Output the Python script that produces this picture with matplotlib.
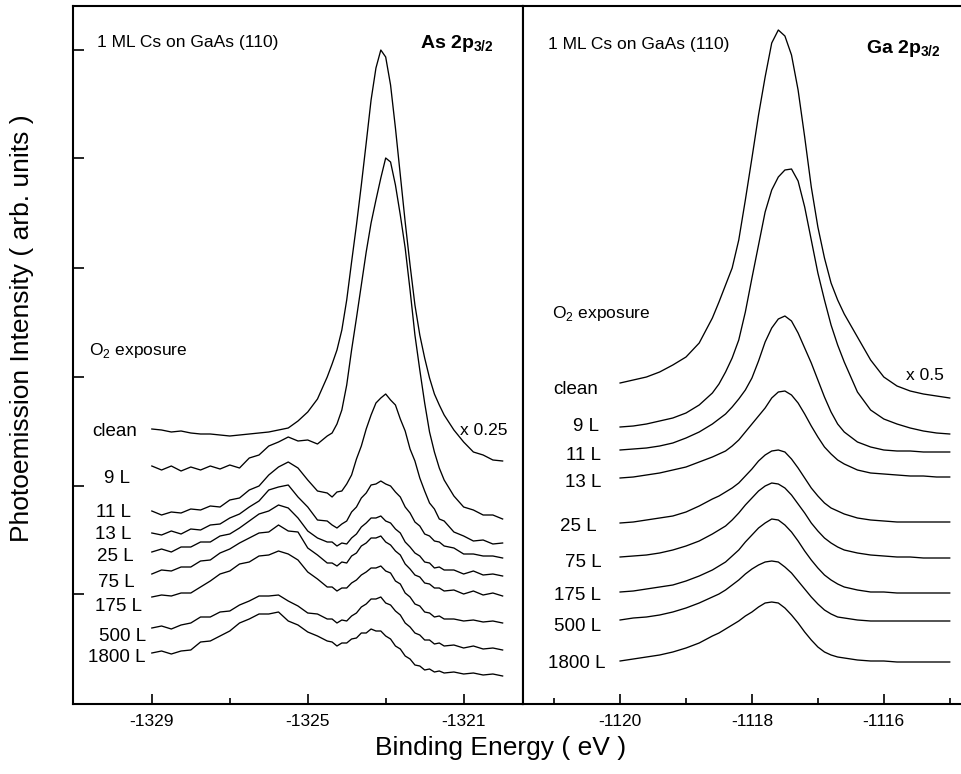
import matplotlib
matplotlib.use("Agg")
import matplotlib.pyplot as plt

plt.rcParams["font.family"] = "Liberation Sans"
plt.rcParams["mathtext.fontset"] = "custom"
plt.rcParams["mathtext.rm"] = "Liberation Sans"
plt.rcParams["mathtext.bf"] = "Liberation Sans:bold"
plt.rcParams["axes.unicode_minus"] = False


########################## data ##########################

exposures = ["clean", "9 L", "11 L", "13 L", "25 L", "75 L", "175 L", "500 L", "1800 L"]

# As 2p3/2 : binding energy (eV) and intensity (arb. units, stacked)
as_energy = [-1329.0, -1328.75, -1328.5, -1328.25, -1328.0, -1327.75, -1327.5, -1327.25,
             -1327.0, -1326.75, -1326.5, -1326.25, -1326.0, -1325.75, -1325.5, -1325.25,
             -1325.0, -1324.75,
             -1324.5, -1324.375, -1324.25, -1324.125, -1324.0, -1323.875, -1323.75,
             -1323.625, -1323.5, -1323.375, -1323.25, -1323.125, -1323.0, -1322.875,
             -1322.75, -1322.625, -1322.5, -1322.375, -1322.25, -1322.125, -1322.0,
             -1321.875, -1321.75, -1321.625, -1321.5,
             -1321.25, -1321.0, -1320.75, -1320.5, -1320.25, -1320.0]

as_clean = [276, 275, 273, 274, 272, 271, 271, 270, 269, 270, 271, 272, 273, 275, 277, 284, 293, 306,
            328, 341, 355, 375, 405, 443, 480, 520, 562, 605, 637, 655, 648, 620, 577, 530, 483, 440,
            400, 370, 347, 327, 311, 300, 290,
            275, 263, 253, 250, 245, 244]
as_9L = [239, 235, 239, 234, 238, 235, 239, 236, 240, 237, 247, 250, 259, 263, 268, 264, 265, 261,
         269, 272, 281, 295, 320, 355, 387, 420, 453, 482, 505, 527, 547, 543, 520, 490, 457, 415,
         370, 335, 302, 273, 253, 237, 225,
         209, 198, 195, 190, 190, 186]
as_11L = [194, 190, 193, 192, 196, 195, 199, 198, 205, 207, 215, 219, 230, 238, 243, 237, 225, 214,
          212, 208, 213, 214, 221, 230, 246, 259, 276, 290, 302, 307, 311, 305, 300, 286, 274, 256,
          244, 227, 214, 202, 196, 186, 184,
          173, 169, 164, 165, 161, 162]
as_13L = [172, 170, 174, 171, 176, 175, 180, 181, 187, 191, 198, 204, 215, 218, 220, 208, 198, 185,
          184, 180, 177, 181, 184, 193, 198, 207, 212, 220, 221, 224, 221, 219, 213, 208, 198, 192,
          183, 179, 171, 169, 164, 163, 159,
          157, 151, 151, 149, 149, 147]
as_25L = [153, 156, 153, 158, 158, 163, 163, 169, 171, 177, 184, 191, 194, 200, 197, 187, 174, 167,
          163, 163, 159, 162, 161, 167, 171, 178, 182, 187, 187, 189, 184, 182, 176, 172, 163, 158,
          152, 149, 143, 142, 137, 138, 135,
          135, 131, 134, 130, 131, 129]
as_75L = [131, 135, 134, 138, 138, 144, 145, 152, 156, 162, 167, 172, 173, 180, 174, 173, 157, 150,
          142, 142, 139, 143, 142, 149, 152, 159, 162, 167, 167, 169, 163, 160, 154, 150, 141, 136,
          130, 128, 122, 121, 117, 117, 114,
          115, 111, 114, 110, 112, 109]
as_175L = [108, 110, 109, 112, 112, 118, 124, 131, 134, 141, 143, 149, 150, 154, 151, 145, 133, 126,
           118, 118, 114, 117, 117, 122, 125, 130, 133, 137, 137, 139, 134, 132, 124, 121, 112, 108,
           101, 99, 93, 92, 88, 89, 86,
           86, 84, 85, 83, 84, 82]
as_500L = [77, 79, 76, 80, 82, 88, 88, 93, 94, 100, 104, 109, 109, 110, 104, 99, 92, 91,
           86, 86, 82, 85, 84, 89, 92, 98, 101, 106, 106, 108, 102, 100, 94, 90, 82, 78,
           72, 70, 65, 65, 61, 62, 59,
           60, 57, 59, 56, 57, 55]
as_1800L = [52, 54, 51, 54, 55, 63, 64, 69, 74, 82, 86, 91, 91, 93, 84, 80, 73, 69,
            64, 63, 59, 62, 62, 66, 67, 72, 72, 76, 74, 74, 69, 66, 59, 56, 49, 46,
            40, 39, 35, 36, 33, 34, 32,
            33, 31, 32, 30, 31, 29]

as_spectra = [as_clean, as_9L, as_11L, as_13L, as_25L, as_75L, as_175L, as_500L, as_1800L]

# Ga 2p3/2
ga_energy = [-1120.0, -1119.8, -1119.6, -1119.4, -1119.2, -1119.0, -1118.8,
             -1118.6, -1118.5, -1118.4, -1118.3, -1118.2, -1118.1, -1118.0, -1117.9,
             -1117.8, -1117.7, -1117.6, -1117.5, -1117.4, -1117.3, -1117.2, -1117.1,
             -1117.0, -1116.9, -1116.8, -1116.7, -1116.6,
             -1116.4, -1116.2, -1116.0, -1115.8, -1115.6, -1115.4, -1115.2, -1115.0]

ga_clean = [322, 325, 328, 333, 340, 348, 362, 387, 403, 420, 437, 465, 505, 547, 590, 628, 662, 675,
            669, 650, 615, 568, 518, 478, 447, 422, 405, 391, 368, 345, 328, 319, 314, 311, 309, 307]
ga_9L = [278, 279, 281, 284, 287, 292, 300, 312, 321, 333, 347, 365, 393, 427, 460, 493, 515, 528,
         535, 536, 524, 498, 465, 432, 405, 380, 360, 343, 313, 295, 286, 281, 277, 274, 272, 271]
ga_11L = [255, 256, 257, 259, 262, 267, 273, 281, 286, 291, 298, 306, 315, 327, 344, 363, 377, 386,
          389, 384, 372, 357, 342, 325, 308, 293, 281, 273, 263, 258, 255, 254, 254, 253, 253, 253]
ga_13L = [227, 228, 230, 232, 235, 238, 243, 248, 251, 254, 259, 265, 273, 281, 289, 297, 307, 313,
          314, 310, 302, 291, 279, 268, 258, 251, 245, 241, 235, 232, 231, 230, 229, 229, 228, 228]
ga_25L = [182, 183, 185, 187, 189, 193, 199, 206, 209, 213, 217, 222, 229, 236, 244, 250, 254, 255,
          253, 246, 237, 227, 217, 209, 202, 197, 194, 191, 187, 185, 184, 183, 183, 183, 183, 183]
ga_75L = [148, 149, 150, 152, 155, 159, 164, 171, 175, 179, 185, 192, 200, 207, 214, 219, 222, 221,
          217, 210, 201, 192, 182, 174, 167, 162, 158, 155, 152, 150, 149, 148, 148, 147, 147, 147]
ga_175L = [113, 114, 116, 118, 120, 124, 129, 135, 139, 143, 149, 155, 163, 170, 177, 182, 186, 185,
           180, 173, 164, 154, 145, 137, 130, 125, 121, 118, 115, 113, 113, 112, 112, 112, 112, 112]
ga_500L = [85, 87, 88, 90, 93, 97, 102, 108, 111, 115, 120, 125, 131, 136, 140, 143, 144, 143,
           138, 132, 124, 116, 108, 101, 95, 91, 88, 87, 85, 84, 84, 84, 84, 84, 84, 84]
ga_1800L = [44, 46, 48, 50, 53, 57, 62, 69, 72, 76, 80, 84, 89, 93, 98, 102, 103, 102,
            97, 90, 82, 73, 65, 58, 53, 50, 48, 47, 45, 44, 44, 43, 43, 43, 43, 43]

ga_spectra = [ga_clean, ga_9L, ga_11L, ga_13L, ga_25L, ga_75L, ga_175L, ga_500L, ga_1800L]


########################## layout ##########################

W, H = 961, 774
# label anchors (energy, intensity baseline)
as_label_x = [-1329.95, -1329.90, -1329.98, -1329.98, -1329.94, -1329.90, -1329.85, -1329.75, -1329.89]
as_label_y = [269, 222, 188, 166, 144, 118, 94, 64, 43]
ga_label_x = [-1120.67, -1120.52, -1120.56, -1120.56, -1120.63, -1120.56, -1120.64, -1120.65, -1120.65]
ga_label_y = [311, 274, 245, 218, 174, 138, 105, 74, 37]


def style_axis(ax, xlim, major, minor):
    ax.set_xlim(*xlim)
    ax.set_ylim(1, 699)
    ax.set_xticks(major)
    ax.set_xticks(minor, minor=True)
    ax.tick_params(axis="x", which="major", direction="in", length=7, width=1.2,
                   labelsize=12.5, pad=7)
    ax.tick_params(axis="x", which="minor", direction="in", length=4, width=1.2)
    for sp in ax.spines.values():
        sp.set_linewidth(1.5)


def draw_panel(ax, energy, spectra, label_x, label_y):
    for spec in spectra:
        ax.plot(energy, spec, color="black", linewidth=0.95)
    for name, lx, ly in zip(exposures, label_x, label_y):
        ax.text(lx, ly, name, fontsize=13.5, ha="center", va="baseline")


fig = plt.figure(figsize=(W / 100, H / 100), dpi=100)
bottom = 1 - 704 / H
top = 1 - 6 / H
split = 522.5 / W
ax1 = fig.add_axes([72.7 / W, bottom, split - 72.7 / W, top - bottom])
ax2 = fig.add_axes([split, bottom, 1.002 - split, top - bottom])

# As panel
draw_panel(ax1, as_energy, as_spectra, as_label_x, as_label_y)
style_axis(ax1, (-1331.03, -1319.49), [-1329, -1325, -1321], [-1327, -1323])
ax1.set_yticks([111, 219, 328, 437, 547, 655])
ax1.tick_params(axis="y", direction="in", length=8, width=1.2, labelleft=False)
ax1.text(-1330.40, 658, "1 ML Cs on GaAs (110)", fontsize=12.5, va="baseline")
ax1.text(-1322.12, 657, r"As 2p$_{\mathbf{3/2}}$", fontsize=14, fontweight="bold", va="baseline")
ax1.text(-1330.61, 350, r"O$_2$ exposure", fontsize=12.5, va="baseline")
ax1.text(-1321.09, 270, "x 0.25", fontsize=12.5, va="baseline")

# Ga panel
draw_panel(ax2, ga_energy, ga_spectra, ga_label_x, ga_label_y)
style_axis(ax2, (-1121.48, -1114.80), [-1120, -1118, -1116], [-1121, -1119, -1117, -1115])
ax2.set_yticks([])
ax2.spines["right"].set_visible(False)
ax2.text(-1121.10, 656, "1 ML Cs on GaAs (110)", fontsize=12.5, va="baseline")
ax2.text(-1116.27, 652, r"Ga 2p$_{\mathbf{3/2}}$", fontsize=14, fontweight="bold", va="baseline")
ax2.text(-1121.03, 387, r"O$_2$ exposure", fontsize=12.5, va="baseline")
ax2.text(-1115.66, 325, "x 0.5", fontsize=12.5, va="baseline")

fig.text(501 / W, 1 - 748 / H, "Binding Energy ( eV )", fontsize=19, ha="center", va="center")
fig.text(22 / W, 1 - 328 / H, "Photoemission Intensity ( arb. units )", fontsize=19,
         rotation=90, ha="center", va="center")

fig.savefig("out.png", dpi=100)
